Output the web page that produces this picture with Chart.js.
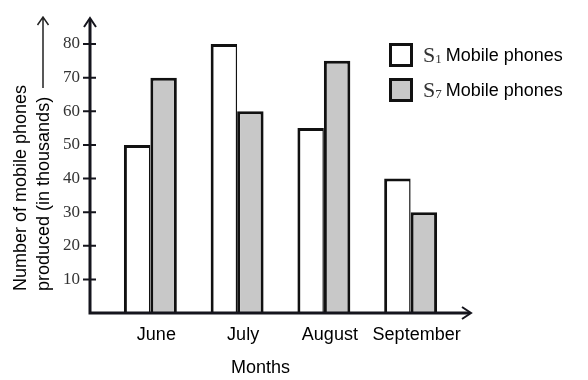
<!DOCTYPE html>
<html>
<head>
<meta charset="utf-8">
<script src="https://cdn.jsdelivr.net/npm/chart.js@4"></script>
<style>
  body { margin: 0; background: #fff; }
  #wrap { position: relative; width: 588px; height: 380px; font-family: 'Liberation Sans', Arial, sans-serif; color: #000; }
  #y-title { position: absolute; left: 8.5px; top: 291px; width: 240px; font-size: 18px; line-height: 23px; white-space: nowrap; transform-origin: 0 0; transform: rotate(-90deg); }
  #x-title { position: absolute; left: 231px; top: 357px; font-size: 18px; }
  #legend { position: absolute; left: 389px; top: 43px; }
  .row { display: flex; align-items: center; height: 24px; margin-bottom: 11px; white-space: nowrap; }
  .box { width: 24px; height: 24px; box-sizing: border-box; border: 3px solid #111; margin-right: 10px; }
  .sym { font-family: 'Liberation Serif', serif; font-size: 22px; color: #333; }
  .sym sub { font-size: 13px; vertical-align: -1px; }
  .lbl { font-size: 18px; margin-left: 4px; }
</style>
</head>
<body>
<div id="wrap">
  <canvas id="chart" width="588" height="380"></canvas>
  <div id="y-title">Number of mobile phones<br>produced (in thousands)</div>
  <div id="x-title">Months</div>
  <div id="legend"></div>
</div>
<script>
// Data
const months = ['June', 'July', 'August', 'September'];
const s1Values = [50, 80, 55, 40];
const s7Values = [70, 60, 75, 30];
const seriesSubs = ['1', '7'];
const seriesLabel = 'Mobile phones';

const fills = ['#ffffff', '#c8c8c8'];

// Legend (HTML so the S can carry a subscript)
const legend = document.getElementById('legend');
seriesSubs.forEach((sub, i) => {
  const row = document.createElement('div');
  row.className = 'row';
  row.innerHTML = '<span class="box" style="background:' + fills[i] + '"></span>' +
    '<span class="sym">S<sub>' + sub + '</sub></span><span class="lbl">' + seriesLabel + '</span>';
  legend.appendChild(row);
});

// Axis lines, arrows and tick marks
const axesPlugin = {
  id: 'axes',
  afterDatasetsDraw(chart) {
    const ctx = chart.ctx;
    const y = chart.scales.y;
    const base = y.getPixelForValue(0);
    const ax = 90;
    ctx.save();
    ctx.strokeStyle = '#15151d';
    ctx.lineWidth = 3;
    ctx.beginPath();
    ctx.moveTo(ax, base + 1.5);
    ctx.lineTo(ax, 19);
    ctx.moveTo(ax - 1.5, base);
    ctx.lineTo(470, base);
    ctx.stroke();

    // arrow heads
    ctx.lineWidth = 2;
    ctx.beginPath();
    ctx.moveTo(ax - 6, 27); ctx.lineTo(ax, 18); ctx.lineTo(ax + 6, 27);
    ctx.moveTo(462, base - 6); ctx.lineTo(471, base); ctx.lineTo(462, base + 6);
    ctx.stroke();

    // tick marks
    ctx.beginPath();
    y.ticks.forEach(t => {
      if (t.value > 0) {
        const py = y.getPixelForValue(t.value);
        ctx.moveTo(83, py);
        ctx.lineTo(96, py);
      }
    });
    ctx.stroke();

    // arrow after the y title
    ctx.lineWidth = 1.5;
    ctx.strokeStyle = '#222';
    ctx.beginPath();
    ctx.moveTo(43, 88); ctx.lineTo(43, 17);
    ctx.moveTo(37.5, 25); ctx.lineTo(43, 17); ctx.lineTo(48.5, 25);
    ctx.stroke();
    ctx.restore();
  }
};

new Chart(document.getElementById('chart'), {
  type: 'bar',
  data: {
    labels: months,
    datasets: [
      {
        label: 'S1 ' + seriesLabel,
        data: s1Values,
        backgroundColor: fills[0],
        borderColor: '#111',
        borderWidth: { top: 3, left: 3, right: 1.5, bottom: 0 },
        borderSkipped: false
      },
      {
        label: 'S7 ' + seriesLabel,
        data: s7Values,
        backgroundColor: fills[1],
        borderColor: '#111',
        borderWidth: { top: 3, left: 3, right: 3, bottom: 0 },
        borderSkipped: false
      }
    ]
  },
  options: {
    responsive: false,
    animation: false,
    layout: { padding: { top: 44, right: 134, left: 0, bottom: 0 } },
    datasets: {
      bar: { categoryPercentage: 0.61, barPercentage: 1 }
    },
    plugins: {
      legend: { display: false },
      tooltip: { enabled: false }
    },
    scales: {
      x: {
        grid: { display: false, drawTicks: false },
        border: { display: false },
        ticks: {
          padding: 11,
          labelOffset: 6,
          autoSkip: false,
          maxRotation: 0,
          minRotation: 0,
          color: '#000',
          font: { family: "'Liberation Sans', Arial, sans-serif", size: 18 }
        },
        afterFit(scale) { scale.height = 67; }
      },
      y: {
        min: 0,
        max: 80,
        grid: { drawOnChartArea: false, tickColor: 'transparent', tickLength: 24 },
        border: { display: false },
        ticks: {
          stepSize: 10,
          padding: 3,
          color: '#333',
          font: { family: "'Liberation Serif', 'Times New Roman', serif", size: 17 },
          callback: v => (v > 0 ? v : '')
        },
        afterFit(scale) { scale.width = 107; }
      }
    }
  },
  plugins: [axesPlugin]
});
</script>
</body>
</html>
